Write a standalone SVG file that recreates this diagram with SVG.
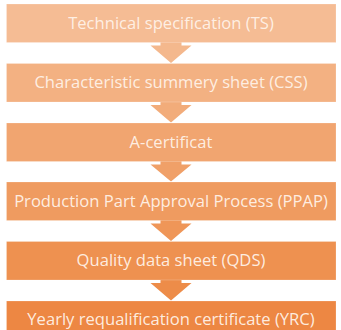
<svg xmlns="http://www.w3.org/2000/svg" width="341" height="330" viewBox="0 0 341 330">
<style>
.box{stroke:#ffffff;stroke-opacity:0.25;stroke-width:0.8}
.lbl{font-family:"Open Sans","Liberation Sans",sans-serif;font-size:16.6px;fill:#FFF3E9;fill-opacity:0.95;text-anchor:middle}
</style>
<rect width="341" height="330" fill="#ffffff"/>
<g id="connectors">
<path d="M160.5,42 H181.5 V45.5 H191.5 L171,63 L150.5,45.5 H160.5 Z" fill="#F4B88D"/>
<path d="M160.5,101.5 H181.5 V105 H191.5 L171,122.5 L150.5,105 H160.5 Z" fill="#F2AC7A"/>
<path d="M160.5,161 H181.5 V164.5 H191.5 L171,181.5 L150.5,164.5 H160.5 Z" fill="#F0A068"/>
<path d="M160.5,220 H181.5 V223.5 H191.5 L171,241 L150.5,223.5 H160.5 Z" fill="#EF9658"/>
<path d="M160.5,279.5 H181.5 V283 H191.5 L171,300.5 L150.5,283 H160.5 Z" fill="#ED8C49"/>
</g>
<g id="n1"><rect class="box" x="6.5" y="4" width="329.5" height="38.5" fill="#F5BC94"/><text class="lbl" x="171" y="28.8">Technical specification (TS)</text></g>
<g id="n2"><rect class="box" x="6.5" y="63.5" width="329.5" height="38.5" fill="#F3B182"/><text class="lbl" x="171" y="88.3">Characteristic summery sheet (CSS)</text></g>
<g id="n3"><rect class="box" x="6.5" y="123" width="329.5" height="38.5" fill="#F1A570"/><text class="lbl" x="171" y="147.8">A-certificat</text></g>
<g id="n4"><rect class="box" x="6.5" y="182" width="329.5" height="38.5" fill="#EF9B60"/><text class="lbl" x="171" y="207">Production Part Approval Process (PPAP)</text></g>
<g id="n5"><rect class="box" x="6.5" y="241.5" width="329.5" height="38.5" fill="#EE9150"/><text class="lbl" x="171" y="266.3">Quality data sheet (QDS)</text></g>
<g id="n6"><rect class="box" x="6.5" y="301" width="329.5" height="38.5" fill="#ED8743"/><text class="lbl" x="171" y="325">Yearly requalification certificate (YRC)</text></g>
</svg>
